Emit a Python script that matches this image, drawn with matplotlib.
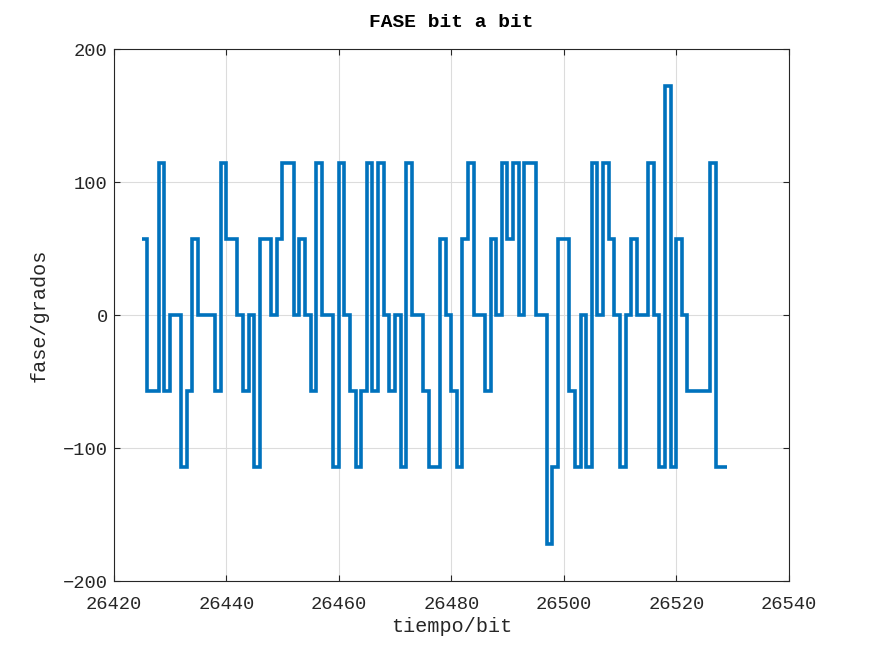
import numpy as np
import matplotlib
matplotlib.use("Agg")
import matplotlib.pyplot as plt

# fase de cada bit, en multiplos de 1 rad
nivel = [1, -1, -1, 2, -1, 0, 0, -2, -1, 1, 0, 0, 0, -1, 2, 1, 1, 0, -1, 0,
         -2, 1, 1, 0, 1,
         2, 2, 0, 1, 0, -1, 2, 0, 0, -2, 2, 0, -1, -2, -1, 2, -1, 2, 0, -1,
         0, -2, 2, 0, 0, -1, -2, -2, 1,
         0, -1, -2, 1, 2, 0, 0, -1, 1, 0, 2, 1, 2, 0, 2, 2, 0, 0, -3, -2,
         1, 1, -1, -2, 0, -2, 2, 0, 2, 1,
         0, -2, 0, 1, 0, 0, 2, 0, -2, 3, -2, 1, 0, -1, -1, -1, -1, 2, -2, -2]
t_inicio = 26424.95
xticks = [26420, 26440, 26460, 26480, 26500, 26520, 26540]
yticks = [-200, -100, 0, 100, 200]

fase = np.degrees(np.array(nivel, dtype=float))
bordes = t_inicio + np.arange(len(nivel) + 1)

fuente = "Liberation Mono"
fig = plt.figure(figsize=(8.72, 6.54), dpi=100)
ax = fig.add_axes([0.1307, 0.1116, 0.7741, 0.8134])

ax.stairs(fase, bordes, baseline=None, color="#0072BD", linewidth=2.6)

ax.set_xlim(26420, 26540)
ax.set_ylim(-200, 200)
ax.set_xticks(xticks)
ax.set_yticks(yticks)
ax.grid(True, color="#dcdcdc", linewidth=0.8)
ax.set_axisbelow(True)
ax.tick_params(direction="in", top=True, right=True, length=4, width=0.8,
               colors="#262626", labelsize=13.5)
ax.tick_params(axis="x", pad=11)
ax.tick_params(axis="y", pad=4.5)
for lab in ax.get_xticklabels() + ax.get_yticklabels():
    lab.set_fontfamily(fuente)
for s in ax.spines.values():
    s.set_color("#262626")
    s.set_linewidth(0.8)

ax.set_title("FASE bit a bit", fontfamily=fuente, fontsize=14,
             fontweight="bold", pad=16)
ax.set_xlabel("tiempo/bit", fontfamily=fuente, fontsize=14.5, color="#262626",
              labelpad=3)
ax.set_ylabel("fase/grados", fontfamily=fuente, fontsize=14.5, color="#262626",
              labelpad=10)

fig.savefig("out.png", dpi=100)
